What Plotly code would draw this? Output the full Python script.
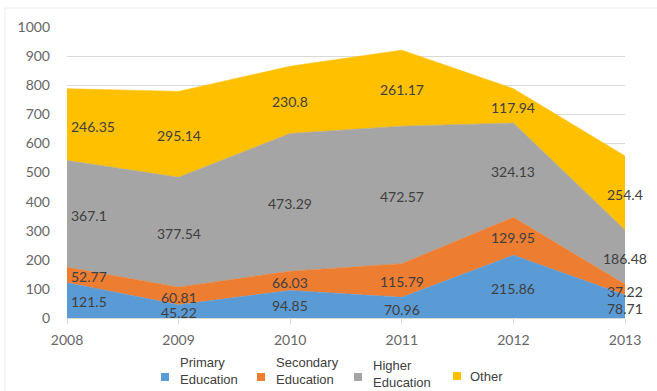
import plotly.graph_objects as go

years = [2008, 2009, 2010, 2011, 2012, 2013]
primary = [121.5, 45.22, 94.85, 70.96, 215.86, 78.71]
secondary = [52.77, 60.81, 66.03, 115.79, 129.95, 37.22]
higher = [367.1, 377.54, 473.29, 472.57, 324.13, 186.48]
other = [246.35, 295.14, 230.8, 261.17, 117.94, 254.4]

series = [
    ("Primary<br>Education", primary, "#5B9BD5"),
    ("Secondary<br>Education", secondary, "#ED7D31"),
    ("Higher<br>Education", higher, "#A5A5A5"),
    ("Other", other, "#FFC000"),
]

W, H = 657, 391
ML, MR, MT, MB = 67, 32, 27, 73
PW, PH = W - ML - MR, H - MT - MB


def px_x(px):
    return (px - ML) / PW


def px_y(py):
    return (H - MB - py) / PH


label_font = dict(family="Lato, Carlito, sans-serif", size=14, color="#404040")
tick_font = dict(family="Lato, Carlito, sans-serif", size=14, color="#666666")
legend_font = dict(family="Liberation Sans, Arial, sans-serif", size=13, color="#404040")

# legend layout: swatch x, text x, swatch y, text y (pixels)
legend_pos = [(165, 178, 377, 371), (261, 274, 377, 371),
              (358, 371, 377, 374), (457, 468, 376, 376)]

fig = go.Figure()
base = [0.0] * len(years)
annotations = []
shapes = []
for (name, vals, color), (sx, tx, sy, ty) in zip(series, legend_pos):
    fig.add_trace(go.Scatter(
        x=years, y=vals, name=name.replace("<br>", " "), stackgroup="one",
        mode="lines", line=dict(width=0.6, color=color), fillcolor=color,
        hoverinfo="skip", showlegend=False,
    ))
    # value labels sit in the middle of each band
    for i, (yr, v) in enumerate(zip(years, vals)):
        mid = base[i] + v / 2 - 5
        first = i == 0
        annotations.append(dict(
            x=yr, y=mid, text=f"{v:g}", showarrow=False, font=label_font,
            xanchor="left" if first else "center", xshift=2 if first else 0,
            yanchor="middle",
        ))
        base[i] += v
    # legend entry: square swatch + left-aligned label
    shapes.append(dict(
        type="rect", xref="paper", yref="paper",
        xsizemode="pixel", ysizemode="pixel",
        xanchor=px_x(sx), yanchor=px_y(sy),
        x0=-4, x1=4, y0=-4, y1=4,
        fillcolor=color, line=dict(width=0),
    ))
    annotations.append(dict(
        xref="paper", yref="paper", x=px_x(tx), y=px_y(ty),
        text=name, showarrow=False, align="left",
        xanchor="left", yanchor="middle", font=legend_font,
    ))

# faint frame along the top and left edges
shapes += [
    dict(type="line", xref="paper", yref="paper",
         x0=px_x(5), x1=px_x(657), y0=px_y(8), y1=px_y(8),
         line=dict(color="#EBEBEB", width=1)),
    dict(type="line", xref="paper", yref="paper",
         x0=px_x(5), x1=px_x(5), y0=px_y(8), y1=px_y(391),
         line=dict(color="#EBEBEB", width=1)),
]

fig.update_layout(
    width=W, height=H,
    margin=dict(l=ML, r=MR, t=MT, b=MB, autoexpand=False),
    paper_bgcolor="white", plot_bgcolor="white",
    annotations=annotations, shapes=shapes,
    showlegend=False,
)
fig.update_xaxes(
    range=[2008, 2013], tickmode="array", tickvals=years,
    ticktext=[str(y) for y in years], automargin=False,
    showgrid=False, zeroline=False, showline=True, linecolor="#D9D9D9",
    ticks="outside", tickcolor="#D9D9D9", ticklen=5,
    ticklabelstandoff=4,
    tickfont=tick_font,
)
fig.update_yaxes(
    range=[0, 1000], dtick=100, showgrid=True, gridcolor="#D9D9D9",
    zeroline=False, showline=False, automargin=False,
    ticklabelstandoff=16,
    tickfont=tick_font,
)

fig.write_html("out.html")
